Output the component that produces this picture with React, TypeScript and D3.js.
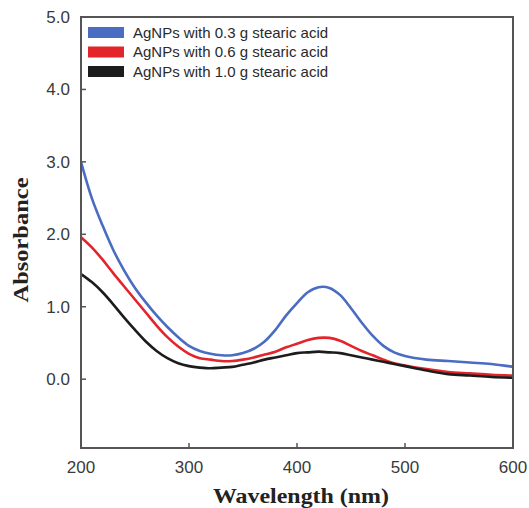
import React from "react";
import * as d3 from "d3";

const wavelengths = [200, 210, 220, 230, 240, 250, 260, 270, 280, 290, 300, 310, 320, 330, 340, 350, 360, 370, 380, 390, 400, 410, 420, 430, 440, 450, 460, 470, 480, 490, 500, 520, 540, 560, 580, 600];
const series03 = [3.0, 2.5, 2.12, 1.78, 1.5, 1.26, 1.06, 0.88, 0.72, 0.58, 0.46, 0.39, 0.35, 0.33, 0.33, 0.36, 0.42, 0.52, 0.68, 0.88, 1.05, 1.2, 1.27, 1.26, 1.16, 0.98, 0.78, 0.6, 0.46, 0.37, 0.32, 0.27, 0.25, 0.23, 0.21, 0.17];
const series06 = [1.96, 1.82, 1.65, 1.46, 1.28, 1.1, 0.92, 0.74, 0.58, 0.45, 0.35, 0.29, 0.27, 0.25, 0.25, 0.27, 0.3, 0.34, 0.38, 0.44, 0.49, 0.54, 0.57, 0.57, 0.53, 0.46, 0.39, 0.33, 0.27, 0.22, 0.19, 0.14, 0.1, 0.08, 0.06, 0.05];
const series10 = [1.45, 1.34, 1.2, 1.03, 0.85, 0.68, 0.52, 0.39, 0.29, 0.22, 0.18, 0.16, 0.15, 0.16, 0.17, 0.2, 0.23, 0.27, 0.3, 0.33, 0.36, 0.37, 0.38, 0.37, 0.36, 0.33, 0.3, 0.27, 0.24, 0.21, 0.18, 0.12, 0.07, 0.05, 0.03, 0.02];
const seriesLabels = ["AgNPs with 0.3 g stearic acid", "AgNPs with 0.6 g stearic acid", "AgNPs with 1.0 g stearic acid"];
const seriesColors = ["#4a6cc2", "#e3242b", "#1c1c1c"];
const xTicks = [200, 300, 400, 500, 600];
const yTicks = [0, 1, 2, 3, 4, 5];

export default function App() {
  const W = 529, H = 508;
  const left = 81, right = 513, top = 17, bottom = 448;
  const x = d3.scaleLinear().domain([200, 600]).range([left, right]);
  const y = d3.scaleLinear().domain([-0.95, 5]).range([bottom, top]);
  const line = d3
    .line<[number, number]>()
    .x((d) => x(d[0]))
    .y((d) => y(d[1]))
    .curve(d3.curveCatmullRom.alpha(0.5));
  const all = [series03, series06, series10];
  const axisColor = "#555";
  const labelColor = "#3a3a3a";
  return (
    <div style={{ position: "absolute", left: 0, top: 0 }}>
      <svg width={W} height={H} style={{ display: "block", background: "#fff" }}>
        <defs>
          <clipPath id="plot">
            <rect x={left} y={top} width={right - left} height={bottom - top} />
          </clipPath>
        </defs>
        <g clipPath="url(#plot)">
          {all.map((s, i) => (
            <path
              key={i}
              d={line(wavelengths.map((w, j) => [w, s[j]] as [number, number])) || ""}
              fill="none"
              stroke={seriesColors[i]}
              strokeWidth={2.6}
              strokeLinejoin="round"
            />
          ))}
        </g>
        <rect x={left} y={top} width={right - left} height={bottom - top} fill="none" stroke={axisColor} strokeWidth={2} />
        {yTicks.map((t) => (
          <g key={"y" + t}>
            <line x1={left} x2={left + 5} y1={y(t)} y2={y(t)} stroke={axisColor} strokeWidth={1.5} />
            <text
              x={70}
              y={y(t)}
              dy="0.35em"
              textAnchor="end"
              fontFamily="'Liberation Sans', Arial, sans-serif"
              fontSize={17}
              fill={labelColor}
            >
              {t.toFixed(1)}
            </text>
          </g>
        ))}
        {xTicks.map((t) => (
          <g key={"x" + t}>
            <line x1={x(t)} x2={x(t)} y1={bottom} y2={bottom - 5} stroke={axisColor} strokeWidth={1.5} />
            <text
              x={x(t)}
              y={473}
              textAnchor="middle"
              fontFamily="'Liberation Sans', Arial, sans-serif"
              fontSize={17}
              fill={labelColor}
            >
              {t}
            </text>
          </g>
        ))}
        <text
          transform={`translate(28, 240) rotate(-90)`}
          textAnchor="middle"
          fontFamily="'Liberation Serif', 'Times New Roman', serif"
          fontWeight="bold"
          fontSize={21}
          textLength={125}
          lengthAdjust="spacingAndGlyphs"
          fill="#222"
        >
          Absorbance
        </text>
        <text
          x={301}
          y={503}
          textAnchor="middle"
          fontFamily="'Liberation Serif', 'Times New Roman', serif"
          fontWeight="bold"
          fontSize={21}
          textLength={176}
          lengthAdjust="spacingAndGlyphs"
          fill="#222"
        >
          Wavelength (nm)
        </text>
        {seriesLabels.map((lab, i) => (
          <g key={"l" + i}>
            <rect x={88} y={27 + i * 19.5} width={36} height={11} fill={seriesColors[i]} />
            <text
              x={133}
              y={32.5 + i * 19.5}
              dy="0.35em"
              fontFamily="'Liberation Sans', Arial, sans-serif"
              fontSize={15}
              fill="#2a2a2a"
            >
              {lab}
            </text>
          </g>
        ))}
      </svg>
    </div>
  );
}
